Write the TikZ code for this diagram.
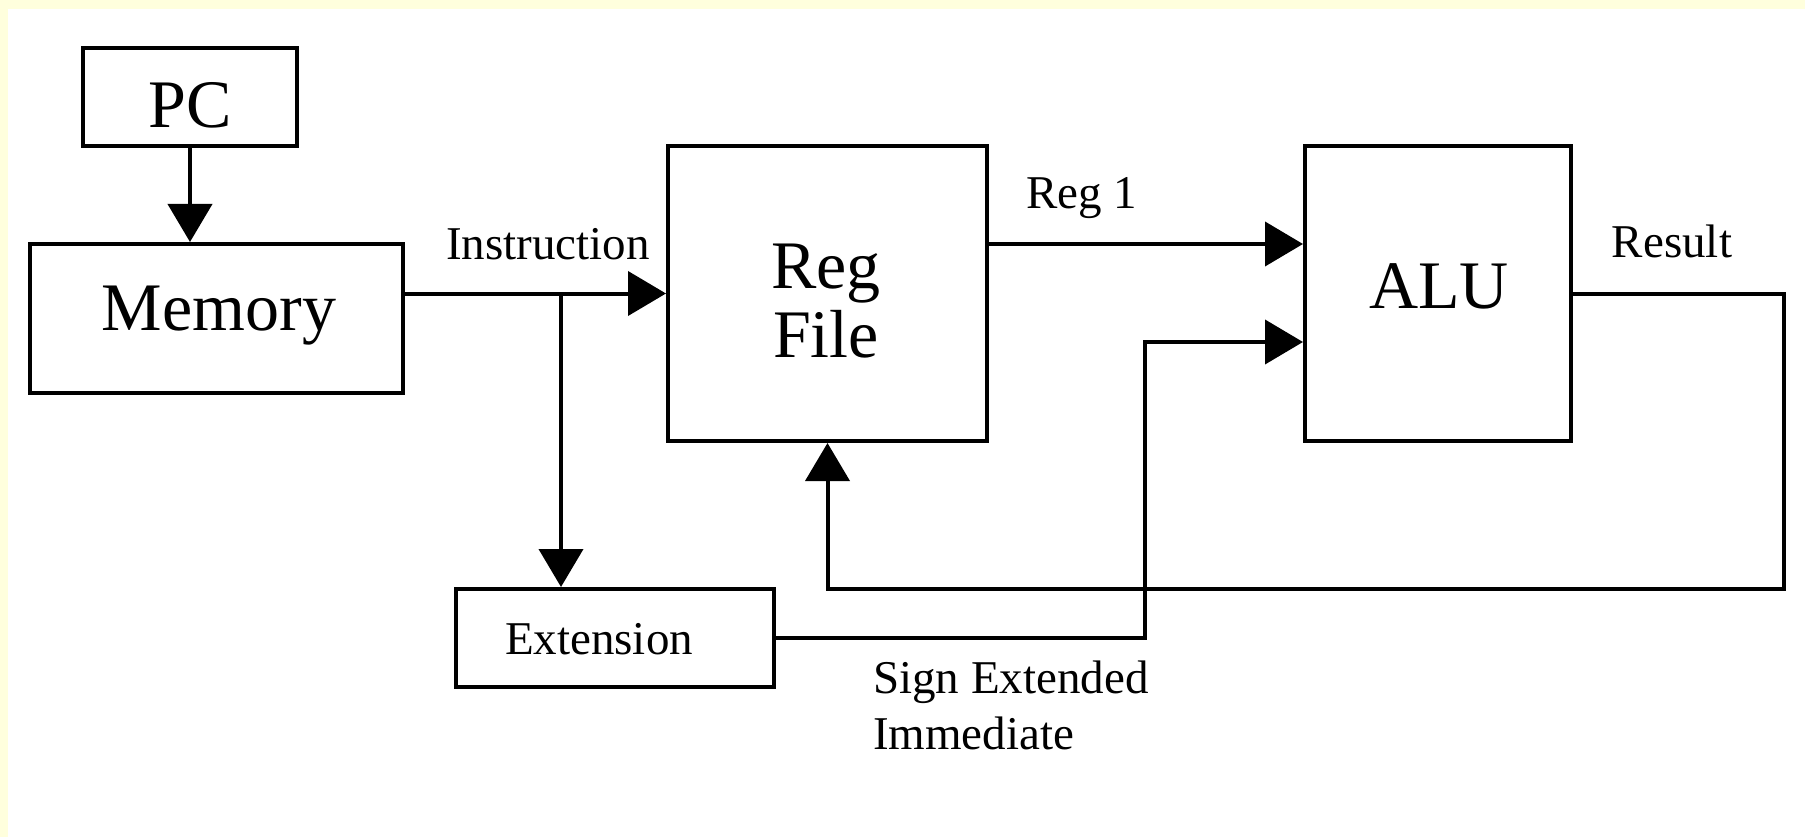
\documentclass[tikz,border=0pt]{standalone}
\usepackage{fontspec}
\setmainfont{Liberation Serif}
\usetikzlibrary{arrows.meta}
\definecolor{bgyellow}{RGB}{255,255,221}
\tikzset{
  box/.style={draw=black, line width=4pt, fill=white, inner sep=0pt, rectangle},
  bigtxt/.style={font=\fontsize{68}{74}\selectfont, inner sep=0pt, anchor=base},
  smalltxt/.style={font=\fontsize{47}{54}\selectfont, inner sep=0pt, anchor=base},
  arr/.style={line width=4pt, -{Triangle[width=44pt,length=38pt]}},
  wire/.style={line width=4pt}
}
\begin{document}
\begin{tikzpicture}[x=1pt,y=-1pt]
\useasboundingbox (0,0) rectangle (1805,837);
\fill[bgyellow] (0,0) rectangle (1805,837);
\fill[white] (8,9) rectangle (1805,837);
% boxes
\node[box, minimum width=214pt, minimum height=98pt] (pc) at (190,97) {};
\node[box, minimum width=373pt, minimum height=149pt] (mem) at (216.5,318.5) {};
\node[box, minimum width=319pt, minimum height=295pt] (rf) at (827.5,293.5) {};
\node[box, minimum width=266pt, minimum height=295pt] (alu) at (1438,293.5) {};
\node[box, minimum width=318pt, minimum height=98pt] (ext) at (615,638) {};
% box texts
\node[bigtxt] (pct) at (190,128) {PC};
\node[bigtxt] (memt) at (219,330) {Memory};
\node[bigtxt] (rft1) at (826,288) {Reg};
\node[bigtxt] (rft2) at (826,357) {File};
\node[bigtxt] (alut) at (1439,308) {ALU};
\node[smalltxt] (extt) at (599,654) {Extension};
% labels
\node[smalltxt] (instr) at (548,259) {Instruction};
\node[smalltxt] (reg1) at (1082,209) {Reg 1};
\node[smalltxt] (res) at (1672,258) {Result};
\node[smalltxt, anchor=base west] (sext) at (873,693) {Sign Extended};
\node[smalltxt, anchor=base west] (imm) at (873,749) {Immediate};
% coordinates
\coordinate (br) at (561,293.5);
\coordinate (r1) at (0,244);
\coordinate (a2) at (1145,342);
\coordinate (resR) at (1784,293.5);
\coordinate (resB) at (1784,589);
\coordinate (retB) at (827.5,589);
% connectors
\draw[arr] (pc.south) -- (pc.south |- mem.north);
\draw[arr] (mem.east |- rf.west) -- (rf.west);
\draw[arr] (br) -- (br |- ext.north);
\draw[arr] (rf.east |- r1) -- (alu.west |- r1);
\draw[arr] (ext.east) -- (a2 |- ext.east) -- (a2) -- (alu.west |- a2);
\draw[arr] (alu.east) -- (resR) -- (resB) -- (retB) -- (rf.south);
\end{tikzpicture}
\end{document}
